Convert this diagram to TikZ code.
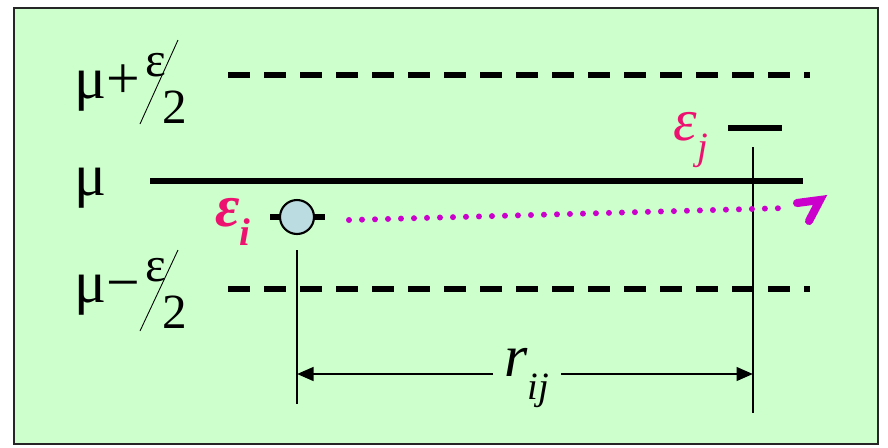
\documentclass[tikz,border=0pt]{standalone}
\usepackage{fontspec}
\setmainfont{Liberation Serif}
\newfontfamily\timesfont{Liberation Serif}
\usetikzlibrary{arrows.meta, positioning, calc}
\definecolor{panelgreen}{RGB}{204,255,204}
\definecolor{epsred}{RGB}{238,18,112}
\definecolor{dotpurple}{RGB}{204,0,204}
\definecolor{ballblue}{RGB}{187,221,226}
\newcommand{\bigfont}{\timesfont\fontsize{34}{38}\selectfont}
\newcommand{\subfont}{\timesfont\fontsize{22}{24}\selectfont}

\begin{document}
\begin{tikzpicture}[
  x=0.02cm, y=-0.02cm,
  frame/.style={draw=black!85, line width=1.2pt, fill=panelgreen},
  lbl/.style={font=\bigfont, inner sep=0pt, anchor=base west},
  half/.style={font=\timesfont\fontsize{28}{30}\selectfont, inner sep=0pt, anchor=base west},
  slash/.style={draw=black, line width=0.5pt},
  level/.style={draw=black, line width=3pt, dash pattern=on 12.5pt off 8pt},
  mean/.style={draw=black, line width=3.4pt},
  tick/.style={draw=black, line width=1.6pt},
  bar/.style={draw=black, line width=3pt},
  ball/.style={circle, draw=black, line width=1.2pt, fill=ballblue, minimum size=0.68cm,
               inner sep=0pt},
  eps/.style={font=\bigfont, text=epsred, inner sep=0pt},
  trail/.style={draw=dotpurple, line width=3.4pt, line cap=round,
                dash pattern=on 0pt off 7.4pt},
  dim/.style={draw=black, line width=1.6pt, -{Triangle[length=3.3mm, width=2.7mm]}}
]
\useasboundingbox (0,0) rectangle (888,447);

% ======================================================= panel
\draw[frame] (14,8) rectangle (878,444);

% ======================================================= level labels
\node[lbl] (mup) at (74,98) {μ+};
\node[half] (epsup) at (145,76) {ε};
\node[half] (twoup) at (162,123) {2};
\draw[slash] (178,40) -- (140,124);

\node[lbl] (mu) at (74,195) {μ};

\node[lbl] (mudn) at (74,302) {μ−};
\node[half] (epsdn) at (145,281) {ε};
\node[half] (twodn) at (162,328) {2};
\draw[slash] (178,250) -- (140,331);

% ======================================================= level lines
\coordinate (upL) at (228,75);  \coordinate (upR) at (810,75);
\coordinate (muL) at (150,181); \coordinate (muR) at (803,181);
\coordinate (dnL) at (228,289); \coordinate (dnR) at (810,289);
\draw[level] (upL) -- (upR);
\draw[mean]  (muL) -- (muR);
\draw[level] (dnL) -- (dnR);

% ======================================================= particle i
\coordinate (barL) at (270,217); \coordinate (barR) at (325,217);
\draw[bar] (barL) -- (barR);
\node[ball] (ei) at (297,217) {};
\node[eps] (epsi) at (233,222) {\bfseries\itshape ε\raisebox{-0.32em}{\subfont\bfseries\itshape i}};
\coordinate (iBot) at (297,404);
\draw[tick] (297,250) coordinate (iTop) -- (iBot);

% ======================================================= particle j
\node[eps] (epsj) at (691,140) {\itshape ε\raisebox{-0.32em}{\subfont\itshape j}};
\coordinate (jbarL) at (728,128); \coordinate (jbarR) at (782,128);
\draw[bar, line width=3.4pt] (jbarL) -- (jbarR);
\coordinate (jTop) at (753,147); \coordinate (jBot) at (753,413);
\draw[tick] (jTop) -- (jBot);

% ======================================================= dotted path
\coordinate (trS) at (349,220); \coordinate (trE) at (787,208);
\draw[trail] (trS) -- (trE);
\draw[dotpurple, line width=4.6pt, line cap=round, line join=miter]
  (797,203) coordinate (hkA) -- (820,200) coordinate (hkB) -- (809,221) coordinate (hkC);

% ======================================================= distance r_ij
\node[font=\bigfont, inner sep=0pt] (rij) at (527,378)
  {\itshape r\raisebox{-0.38em}{\subfont\itshape ij}};
\coordinate (dimL) at (297,374); \coordinate (dimR) at (753,374);
\coordinate (gapL) at (493,374); \coordinate (gapR) at (561,374);
\draw[dim] (gapL) -- (dimL);
\draw[dim] (gapR) -- (dimR);

\end{tikzpicture}
\end{document}
